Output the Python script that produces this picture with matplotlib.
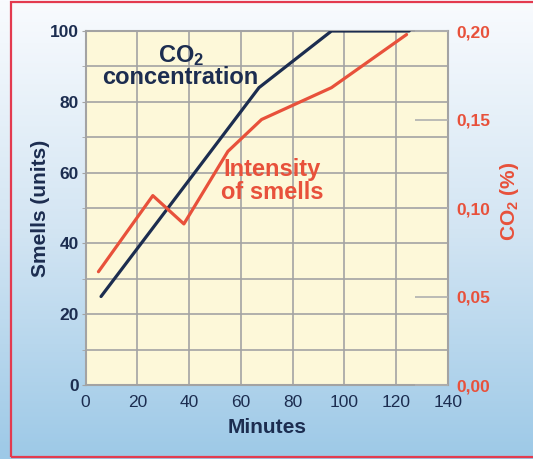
import numpy as np
import matplotlib.pyplot as plt
from matplotlib.patches import Rectangle
from matplotlib.colors import LinearSegmentedColormap

plt.rcParams['font.family'] = ['Liberation Sans', 'DejaVu Sans']
plt.rcParams['mathtext.fontset'] = 'custom'
plt.rcParams['mathtext.rm'] = 'Liberation Sans:weight=bold'
plt.rcParams['mathtext.it'] = 'Liberation Sans:weight=bold'
plt.rcParams['mathtext.bf'] = 'Liberation Sans:weight=bold'

NAVY = '#1c2d50'
RED = '#e8513b'
GRID = '#a3a3a3'

# CO2 concentration (left scale, smell units)
co2_min = [6, 67, 95, 125]
co2_val = [25, 84, 100, 100]

# intensity of smells
smell_min = [5, 26, 38, 55, 68, 95, 124]
smell_val = [32, 53.5, 45.5, 66, 75, 84, 99]

x_ticks = [0, 20, 40, 60, 80, 100, 120, 140]
y_ticks = [0, 20, 40, 60, 80, 100]
pct_ticks = [0.0, 0.05, 0.10, 0.15, 0.20]
pct_labels = ['0,00', '0,05', '0,10', '0,15', '0,20']

fig = plt.figure(figsize=(5.33, 4.59), dpi=100)

# background gradient + frame
bg = fig.add_axes([0, 0, 1, 1], zorder=-10)
cmap = LinearSegmentedColormap.from_list('bg', ['#f9fbfe', '#d3e5f3', '#9dc9e7'])
bg.imshow(np.linspace(0, 1, 256)[:, None], aspect='auto', cmap=cmap,
          extent=[0, 1, 0, 1], origin='upper')
bg.add_patch(Rectangle((11 / 533, 2 / 459), 1.1, 455 / 459, transform=bg.transAxes,
                       fill=False, edgecolor='#e33a4f', linewidth=1.6))
bg.set_xlim(0, 1)
bg.set_ylim(0, 1)
bg.axis('off')

ax = fig.add_axes([85.5 / 533, 1 - 385 / 459, 362.5 / 533, 354 / 459])
ax.set_facecolor('#fdf8d9')
ax.set_xlim(0, 140)
ax.set_ylim(0, 100)
ax.set_xticks(x_ticks)
ax.set_yticks(y_ticks)
ax.set_yticks(np.arange(0, 101, 10), minor=True)
ax.grid(True, which='both', color=GRID, linewidth=1.2)
ax.set_axisbelow(True)
for s in ax.spines.values():
    s.set_color(GRID)
    s.set_linewidth(1.5)

ax.tick_params(axis='x', length=0, pad=7, labelsize=12.5, labelcolor=NAVY)
ax.tick_params(axis='y', which='both', length=3, color=GRID, pad=2,
               labelsize=12.5, labelcolor=NAVY)
for lbl in ax.get_yticklabels():
    lbl.set_fontweight('bold')

ax.plot(co2_min, co2_val, color=NAVY, linewidth=2.3, solid_capstyle='round', zorder=3)
ax.plot(smell_min, smell_val, color=RED, linewidth=2.3, solid_capstyle='round', zorder=3)

ax.set_xlabel('Minutes', fontsize=15, fontweight='bold', color=NAVY, va='center')
ax.xaxis.set_label_coords(0.5, -0.121)
ax.set_ylabel('Smells (units)', fontsize=15, fontweight='bold', color=NAVY, va='center')
ax.yaxis.set_label_coords(-0.125, 0.5)

ax.text(37, 93.2, r'CO$_2$', fontsize=17, fontweight='bold', color=NAVY,
        ha='center', va='center')
ax.text(36.6, 87, 'concentration', fontsize=17, fontweight='bold', color=NAVY,
        ha='center', va='center')
ax.text(72, 57.5, 'Intensity\nof smells', fontsize=17, fontweight='bold', color=RED,
        ha='center', va='center', linespacing=1.0)

ax2 = ax.twinx()
ax2.set_ylim(0, 0.20)
ax2.set_yticks(pct_ticks)
ax2.set_yticklabels(pct_labels, fontweight='bold')
ax2.tick_params(axis='y', direction='in', length=24, width=1.2, color='#b0b0b0',
                pad=6, labelsize=12.5, labelcolor=RED)
for s in ax2.spines.values():
    s.set_visible(False)
ax2.set_ylabel(r'CO$_2$ (%)', fontsize=15, fontweight='bold', color=RED, va='center')
ax2.yaxis.set_label_coords(1.171, 0.52)

fig.savefig('out.png', dpi=100)
